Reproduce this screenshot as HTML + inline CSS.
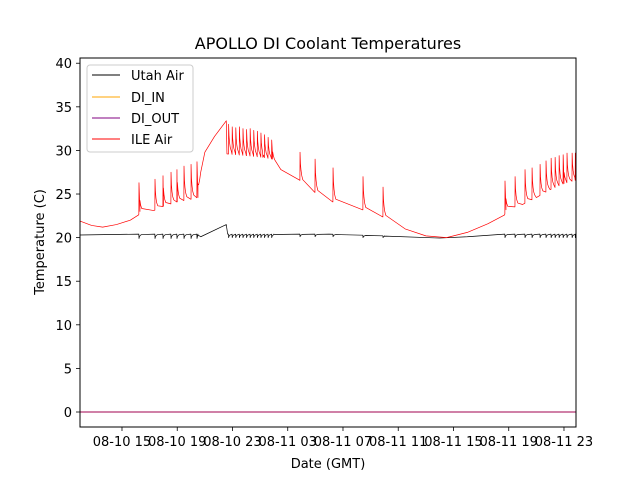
<!DOCTYPE html>
<html><head><meta charset="utf-8"><style>
body{margin:0;background:#fff;}
svg text{font-family:"DejaVu Sans","Liberation Sans",sans-serif;}
</style></head><body>
<svg id="chart" width="640" height="480" viewBox="0 0 640 480" xmlns="http://www.w3.org/2000/svg">
<rect x="0" y="0" width="640" height="480" fill="#fff"/>
<text x="328" y="49" font-size="16" text-anchor="middle">APOLLO DI Coolant Temperatures</text>
<g id="axes"></g>
<g id="series"></g>
<rect x="80" y="58" width="496" height="369" fill="none" stroke="#000" stroke-width="1"/>
<text x="328" y="468" font-size="13" text-anchor="middle">Date (GMT)</text>
<text transform="translate(44,242) rotate(-90)" font-size="13" text-anchor="middle">Temperature (C)</text>
<g>
<rect x="87" y="65" width="106" height="87" rx="3" fill="#fff" fill-opacity="0.8" stroke="#ccc" stroke-width="1"/>
<g><line x1="92" y1="75" x2="120" y2="75" stroke="#000" stroke-width="1"/><text x="131" y="80" font-size="13">Utah Air</text></g>
<g><line x1="92" y1="97" x2="120" y2="97" stroke="#ffa500" stroke-width="1"/><text x="131" y="102" font-size="13">DI_IN</text></g>
<g><line x1="92" y1="118" x2="120" y2="118" stroke="#800080" stroke-width="1"/><text x="131" y="123" font-size="13">DI_OUT</text></g>
<g><line x1="92" y1="139" x2="120" y2="139" stroke="#ff0000" stroke-width="1"/><text x="131" y="144" font-size="13">ILE Air</text></g>
</g>
</svg>
<script>
// x: hours since 08-10 00:00 GMT
const xTickHours = [15,19,23,27,31,35,39,43,47];
const xTickLabels = ["08-10 15","08-10 19","08-10 23","08-11 03","08-11 07","08-11 11","08-11 15","08-11 19","08-11 23"];
const yTicks = [0,5,10,15,20,25,30,35,40];
// ILE Air baseline knots
const ileBaseT = [11.96,12.8,13.6,14.6,15.6,16.2,16.3,17.3,18,19,20,20.5,20.7,21,21.7,22.55,22.6,24,25.2,25.9,26.5,27.85,28.95,30.25,32.4,33.85,35.5,37,38.5,40,41.5,42.7,42.8,44,45,46,47,47.87];
const ileBaseV = [21.9,21.4,21.2,21.5,22.0,22.6,23.0,23.1,23.6,24.1,24.4,24.6,27.5,29.8,31.6,33.4,29.6,29.4,29.2,29.0,27.8,26.6,25.2,24.1,23.2,22.4,21.0,20.2,20.0,20.6,21.6,22.6,23.2,23.8,24.6,25.5,26.2,26.6];
// ILE Air spikes
const ileSpikeT = [16.23,17.39,17.97,18.55,18.98,19.49,20.0,20.43,22.72,22.98,23.24,23.5,23.76,24.02,24.28,24.54,24.8,25.06,25.32,25.58,25.84,27.89,28.98,30.28,32.45,33.9,42.73,43.46,44.18,44.69,45.27,45.7,46.07,46.36,46.65,46.94,47.22,47.59,47.82];
const ileSpikeV = [26.3,26.7,27.1,27.5,27.8,28.2,28.4,28.7,33.0,32.7,32.6,32.7,32.5,32.4,32.5,32.3,32.2,32.0,31.8,31.5,31.2,29.8,29.0,28.0,27.0,25.8,26.5,27.0,27.8,28.0,28.4,28.8,29.1,29.2,29.4,29.5,29.7,29.7,29.7];
// Utah Air baseline knots and dips
const utahBaseT = [11.96,16.2,20.5,20.7,22.55,22.65,26,30,34,38,40,42.7,47.87];
const utahBaseV = [20.3,20.4,20.4,20.1,21.5,20.4,20.4,20.4,20.2,19.95,20.1,20.4,20.4];
const utahDipT = [16.23,17.39,17.97,18.55,18.98,19.49,20.0,20.43,22.72,22.98,23.24,23.5,23.76,24.02,24.28,24.54,24.8,25.06,25.32,25.58,25.84,27.89,28.98,30.28,32.45,33.9,42.73,43.46,44.18,44.69,45.27,45.7,46.07,46.36,46.65,46.94,47.22,47.59,47.82];
const utahDipV = [19.9,19.9,19.9,19.9,19.9,19.9,19.9,19.9,20.0,20.0,20.0,20.0,20.0,20.0,20.0,20.0,20.0,20.0,20.0,20.0,20.0,20.1,20.1,20.1,20.0,20.0,20.0,20.0,20.0,20.0,20.0,20.0,20.0,20.0,20.0,20.0,20.0,20.0,20.0];
const diInT = [11.96,47.87], diInV = [0,0];
const diOutT = [11.96,47.87], diOutV = [0,0];

const X0=80, X1=576, T0=11.96, T1=47.87;
const Y0=427, Y1=58, V0=-1.72, V1=40.6;
function xs(t){return X0+(t-T0)/(T1-T0)*(X1-X0);}
function ys(v){return Y0-(v-V0)/(V1-V0)*(Y0-Y1);}
const NS="http://www.w3.org/2000/svg";
const axes=document.getElementById('axes'), series=document.getElementById('series');
function mk(tag,attrs,parent){const e=document.createElementNS(NS,tag);for(const k in attrs)e.setAttribute(k,attrs[k]);parent.appendChild(e);return e;}

xTickHours.forEach((h,i)=>{
  const x=xs(h);
  const tk=mk('line',{x1:x,y1:427,x2:x,y2:431,stroke:'#000','stroke-width':0.8},axes);
  
  
  const tx=mk('text',{x:x,y:446,'font-size':13,'text-anchor':'middle'},axes);
  tx.textContent=xTickLabels[i];
  
  
});
yTicks.forEach(v=>{
  const y=ys(v);
  const tk=mk('line',{x1:76,y1:y,x2:80,y2:y,stroke:'#000','stroke-width':0.8},axes);
  
  
  const tx=mk('text',{x:72,y:y+5,'font-size':13,'text-anchor':'end'},axes);
  tx.textContent=String(v);
  
  
});

function interp(T,V,t){
  if(t<=T[0])return V[0];
  for(let i=1;i<T.length;i++){if(t<=T[i]){const f=(t-T[i-1])/(T[i]-T[i-1]);return V[i-1]+f*(V[i]-V[i-1]);}}
  return V[V.length-1];
}
function buildSeries(bT,bV,sT,sV){
  const pts=[];
  bT.forEach((t,i)=>pts.push([t,bV[i]]));
  sT.forEach((t,i)=>{
    const p=sV[i];
    pts.push([t-0.01,interp(bT,bV,t-0.01)]);pts.push([t,p]);
    [[0.03,0.6],[0.07,0.38],[0.12,0.22],[0.2,0.1]].forEach(s=>{
      const b=interp(bT,bV,t+s[0]);pts.push([t+s[0],b+(p-b)*s[1]]);
    });
  });
  pts.sort((a,b)=>a[0]-b[0]);
  return pts.filter(p=>p[0]>=T0&&p[0]<=T1);
}
function drawLine(pts,color,w,name){
  const d=pts.map((p,i)=>(i?'L':'M')+xs(p[0]).toFixed(2)+' '+ys(p[1]).toFixed(2)).join(' ');
  const el=mk('path',{d:d,fill:'none',stroke:color,'stroke-width':w,'stroke-linejoin':'round'},series);
  
  
}
drawLine(buildSeries(utahBaseT,utahBaseV,utahDipT,utahDipV),'#000',0.7,'utah-air-line');
drawLine(diInT.map((t,i)=>[t,diInV[i]]),'#ffa500',0.8,'di-in-line');
drawLine(diOutT.map((t,i)=>[t,diOutV[i]]),'#a0004f',0.9,'di-out-line');
drawLine(buildSeries(ileBaseT,ileBaseV,ileSpikeT,ileSpikeV),'#ff0000',0.7,'ile-air-line');
</script>
</body></html>
